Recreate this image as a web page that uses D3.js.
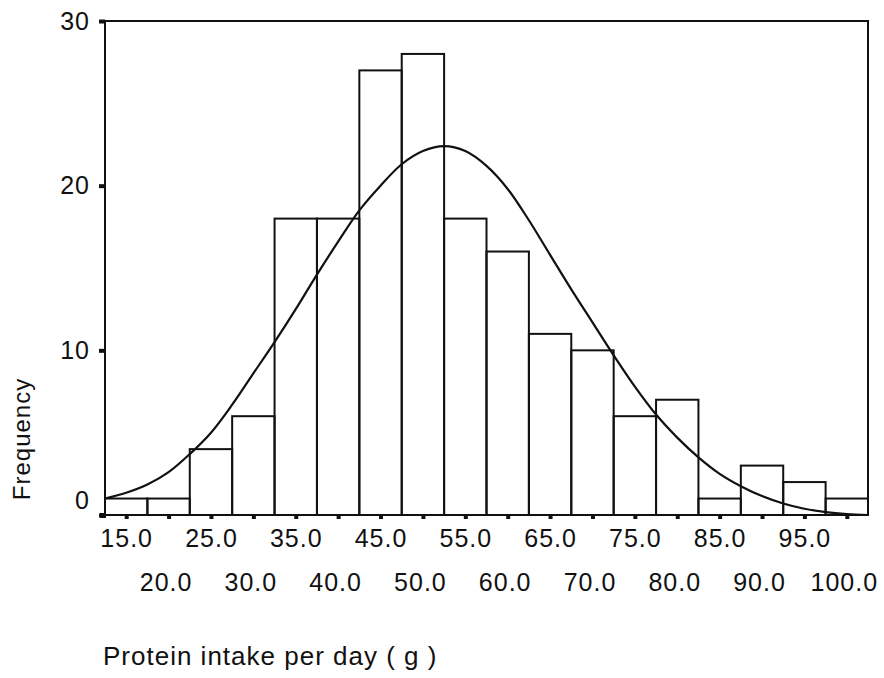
<!DOCTYPE html>
<html>
<head>
<meta charset="utf-8">
<script src="https://cdn.jsdelivr.net/npm/d3@7"></script>
<style>
  body { margin: 0; background: #fff; }
  svg text { font-family: "Liberation Sans", Arial, sans-serif; fill: #111; }
</style>
</head>
<body>
<svg id="chart"></svg>
<script>
// histogram bins (midpoints) and counts
const binMids = [15, 20, 25, 30, 35, 40, 45, 50, 55, 60, 65, 70, 75, 80, 85, 90, 95, 100];
const counts = [1, 1, 4, 6, 18, 18, 27, 28, 18, 16, 11, 10, 6, 7, 1, 3, 2, 1];
const binWidth = 5;

// normal curve
const curveX = [12.5, 15, 17.5, 20, 22.5, 25, 27.5, 30, 32.5, 35, 37.5, 40, 42.5, 45, 47.5, 50, 52.5,
  55, 57.5, 60, 62.5, 65, 67.5, 70, 72.5, 75, 77.5, 80, 82.5, 85, 87.5, 90, 92.5, 95, 97.5, 100, 102.5];
const curveY = [1.0, 1.35, 1.85, 2.6, 3.7, 5.0, 6.7, 8.6, 10.5, 12.5, 14.6, 16.6, 18.5, 20.0, 21.3, 22.1, 22.4,
  22.1, 21.2, 19.8, 17.9, 15.8, 13.7, 11.7, 9.7, 7.8, 6.1, 4.7, 3.5, 2.5, 1.75, 1.15, 0.7, 0.38, 0.18, 0.06, 0.0];

const yTicks = [0, 10, 20, 30];

const w = 884, h = 678;
const margin = { left: 105, right: 868, top: 21, bottom: 515 };

const svg = d3.select('#chart')
  .attr('width', w)
  .attr('height', h);

let xScale = d3.scaleLinear()
  .domain([binMids[0] - binWidth / 2, binMids[binMids.length - 1] + binWidth / 2])
  .range([margin.left, margin.right]);

let yScale = d3.scaleLinear()
  .domain([0, 30])
  .range([margin.bottom, margin.top]);

// bars
svg.selectAll('rect.bar')
  .data(binMids)
  .enter()
  .append('rect')
  .attr('class', 'bar')
  .attr('x', (d) => xScale(d - binWidth / 2))
  .attr('y', (d, i) => yScale(counts[i]))
  .attr('width', (d) => xScale(d + binWidth / 2) - xScale(d - binWidth / 2))
  .attr('height', (d, i) => yScale(0) - yScale(counts[i]))
  .attr('fill', 'none')
  .attr('stroke', '#111')
  .attr('stroke-width', 2);

// fitted curve
let line = d3.line()
  .x((d) => xScale(d))
  .y((d, i) => yScale(curveY[i]))
  .curve(d3.curveCatmullRom);

svg.append('path')
  .attr('d', line(curveX))
  .attr('fill', 'none')
  .attr('stroke', '#111')
  .attr('stroke-width', 2.2);

// frame
svg.append('rect')
  .attr('x', margin.left)
  .attr('y', margin.top)
  .attr('width', margin.right - margin.left)
  .attr('height', margin.bottom - margin.top)
  .attr('fill', 'none')
  .attr('stroke', '#111')
  .attr('stroke-width', 2);

// AXES
let xAxis = d3.axisBottom(xScale)
  .tickValues(binMids)
  .tickSize(4)
  .tickPadding(10)
  .tickFormat(d3.format('.1f'));

let xAxisGroup = svg.append('g')
  .attr('transform', `translate(0, ${margin.bottom})`)
  .call(xAxis);

xAxisGroup.select('.domain').remove();
xAxisGroup.selectAll('line')
  .attr('stroke', '#111')
  .attr('stroke-width', 4);
xAxisGroup.selectAll('text')
  .style('font-size', '25px')
  .style('letter-spacing', '1px')
  .attr('fill', '#111')
  .attr('dy', (d, i) => i % 2 == 0 ? '0.71em' : '2.47em')
  .attr('dx', (d, i) => i % 2 == 0 ? 0 : -3);

let yAxis = d3.axisLeft(yScale)
  .tickValues(yTicks)
  .tickSize(6)
  .tickPadding(9)
  .tickFormat(d3.format('d'));

let yAxisGroup = svg.append('g')
  .attr('transform', `translate(${margin.left}, 0)`)
  .call(yAxis);

yAxisGroup.select('.domain').remove();
yAxisGroup.selectAll('line')
  .attr('stroke', '#111')
  .attr('stroke-width', 4);
yAxisGroup.selectAll('text')
  .style('font-size', '25px')
  .style('letter-spacing', '1px')
  .attr('fill', '#111')
  .attr('y', (d) => d == 0 ? -15 : 0);

// corner mark
svg.append('rect')
  .attr('x', margin.left - 5)
  .attr('y', margin.bottom - 2)
  .attr('width', 6)
  .attr('height', 5)
  .attr('fill', '#111');

// axis titles
svg.append('text')
  .attr('transform', `translate(30, 439) rotate(-90)`)
  .attr('text-anchor', 'middle')
  .style('font-size', '24px')
  .style('letter-spacing', '1px')
  .text('Frequency');

svg.append('text')
  .attr('x', 103)
  .attr('y', 665)
  .style('font-size', '26px')
  .style('letter-spacing', '1px')
  .text('Protein intake per day ( g )');
</script>
</body>
</html>
